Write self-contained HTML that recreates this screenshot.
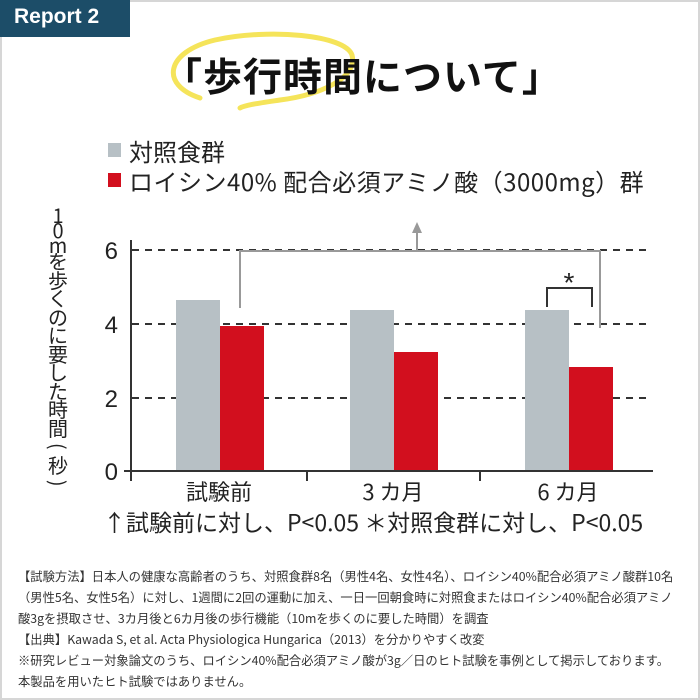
<!DOCTYPE html>
<html><head><meta charset="utf-8"><style>
body{margin:0;width:700px;height:700px;overflow:hidden;background:#fff;font-family:"Liberation Sans","Noto Sans CJK JP",sans-serif;}
.f{position:absolute;left:0;top:0;width:696px;height:696px;border:2px solid #d6d6d6;}
.t{position:absolute;white-space:nowrap;color:#222;}
</style></head><body>
<div class="f"></div>
<div style="position:absolute;left:0;top:0;width:130px;height:37px;background:#1c4d68;"></div>
<div class="t" style="left:14px;top:5px;color:#fff;font-size:21px;font-weight:bold;">Report 2</div>
<svg width="700" height="700" style="position:absolute;left:0;top:0">
<path d="M200,98 C160,85 165,52 215,40 C270,28 345,35 352,55 C358,78 320,95 280,100 C260,103 245,105 240,108" fill="none" stroke="#f5e45a" stroke-width="5" stroke-linecap="round"/>
</svg>
<div class="t" style="left:163px;top:47px;font-size:39px;letter-spacing:1px;font-weight:bold;color:#111;font-family:'Noto Sans CJK JP',sans-serif;">「歩行時間について」</div>
<div style="position:absolute;left:108px;top:143px;width:13px;height:14px;background:#b7c0c5"></div>
<div style="position:absolute;left:108px;top:173px;width:13px;height:14px;background:#d20f1e"></div>
<div class="t" style="left:129px;top:133px;font-size:24px;font-family:'Noto Sans CJK JP',sans-serif;">対照食群</div>
<div class="t" style="left:129px;top:163px;font-size:24px;letter-spacing:0.5px;font-family:'Noto Sans CJK JP',sans-serif;">ロイシン40% 配合必須アミノ酸（3000mg）群</div>
<svg width="700" height="700" style="position:absolute;left:0;top:0;font-family:'Noto Sans CJK JP',sans-serif">
<g stroke="#333" stroke-width="2" stroke-dasharray="7,6">
<line x1="132" y1="250" x2="652" y2="250"/><line x1="132" y1="324" x2="652" y2="324"/><line x1="132" y1="398" x2="652" y2="398"/>
</g>
<rect x="176" y="300" width="44" height="171" fill="#b7c0c5"/>
<rect x="220" y="326" width="44" height="145" fill="#d20f1e"/>
<rect x="350" y="310" width="44" height="161" fill="#b7c0c5"/>
<rect x="394" y="352" width="44" height="119" fill="#d20f1e"/>
<rect x="525" y="310" width="44" height="161" fill="#b7c0c5"/>
<rect x="569" y="367" width="44" height="104" fill="#d20f1e"/>
<g stroke="#333" stroke-width="2" fill="none">
<line x1="131" y1="240" x2="131" y2="472"/><line x1="124" y1="471" x2="653" y2="471"/>
<line x1="307" y1="471" x2="307" y2="481"/><line x1="480" y1="471" x2="480" y2="481"/>
<line x1="131" y1="471" x2="131" y2="481"/>
<polyline points="547,307 547,288 592,288 592,307"/>
</g>
<g stroke="#999" stroke-width="2" fill="none">
<polyline points="240,308 240,251 600,251 600,328"/>
<line x1="417" y1="251" x2="417" y2="230"/>
</g>
<polygon points="417,222 412,233 422,233" fill="#999"/>
<text x="569" y="292" font-size="28" text-anchor="middle" fill="#222" font-family="Liberation Sans,sans-serif">*</text>
<g font-size="24" fill="#222" text-anchor="end" font-family="Liberation Sans,sans-serif">
<text x="118" y="259">6</text><text x="118" y="333">4</text><text x="118" y="407">2</text><text x="118" y="480">0</text>
</g>
<g font-size="22" fill="#222" text-anchor="middle">
<text x="219" y="500">試験前</text><text x="393" y="500">3 カ月</text><text x="568" y="500">6 カ月</text>
</g>
<text x="103" y="531" font-size="23" fill="#222">↑試験前に対し、P&lt;0.05 ＊対照食群に対し、P&lt;0.05</text>
</svg>
<div class="t" style="left:46px;top:207px;width:24px;font-size:20px;line-height:18.5px;text-align:center;white-space:normal;font-family:'Noto Sans CJK JP',sans-serif;"><span style="line-height:15px;display:block">1<br>0<br>m</span>を<br>歩<br>く<br>の<br>に<br>要<br>し<br>た<br>時<br>間<br><span style="display:inline-block;transform:rotate(90deg)">(</span><br>秒<br><span style="display:inline-block;transform:rotate(90deg)">)</span></div>
<div class="t" style="left:18px;top:566px;font-size:12.3px;line-height:21px;color:#333;font-family:'Noto Sans CJK JP',sans-serif;">【試験方法】日本人の健康な高齢者のうち、対照食群8名（男性4名、女性4名）、ロイシン40%配合必須アミノ酸群10名<br>（男性5名、女性5名）に対し、1週間に2回の運動に加え、一日一回朝食時に対照食またはロイシン40%配合必須アミノ<br>酸3gを摂取させ、3カ月後と6カ月後の歩行機能（10mを歩くのに要した時間）を調査<br>【出典】Kawada S, et al. Acta Physiologica Hungarica（2013）を分かりやすく改変<br>※研究レビュー対象論文のうち、ロイシン40%配合必須アミノ酸が3g／日のヒト試験を事例として掲示しております。<br>本製品を用いたヒト試験ではありません。</div>
</body></html>
